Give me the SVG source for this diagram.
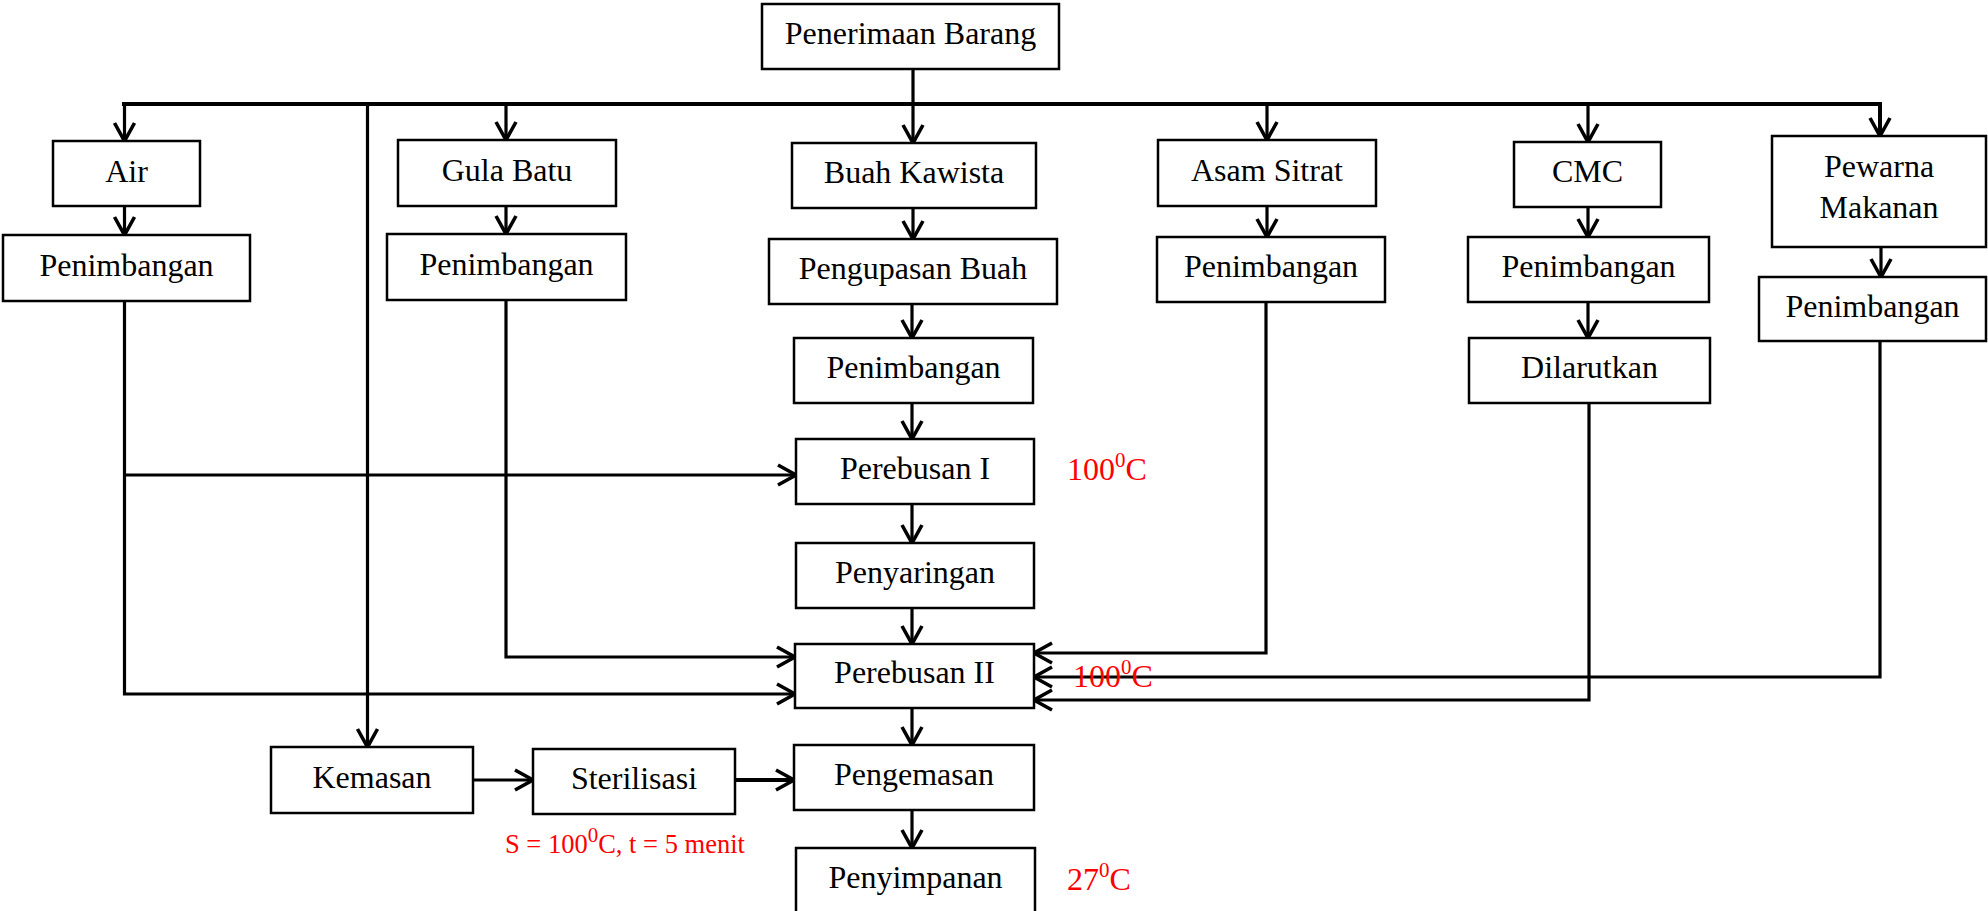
<svg xmlns="http://www.w3.org/2000/svg" width="1988" height="911" viewBox="0 0 1988 911">
  <style>
    .box { fill: #ffffff; stroke: #000000; stroke-width: 2.5; }
    .lbl { font-family: "Liberation Serif", "Times New Roman", serif; font-size: 32px; fill: #000000; text-anchor: middle; }
    .note { font-family: "Liberation Serif", "Times New Roman", serif; font-size: 32px; fill: #ff0000; }
    .small { font-size: 26.5px; }
    .sup { font-size: 21px; }
    .wire { fill: none; stroke: #000000; stroke-width: 3.2; }
    .bus { stroke-width: 4; }
    .arr { marker-end: url(#head); }
  </style>
  <defs>
    <marker id="head" markerUnits="userSpaceOnUse" markerWidth="24" markerHeight="26" refX="18" refY="10" orient="auto" overflow="visible">
      <path d="M0,0 L18,10 L0,20" fill="none" stroke="#000000" stroke-width="3.6"/>
    </marker>
  </defs>

  <!-- connectors -->
  <g id="connectors">
    <polyline class="wire bus arr" points="122,104 1880,104 1880,136"/>
    <line class="wire" x1="913" y1="69" x2="913" y2="104"/>
    <line class="wire arr" x1="124.5" y1="104" x2="124.5" y2="141"/>
    <line class="wire arr" x1="506" y1="104" x2="506" y2="140"/>
    <line class="wire arr" x1="913" y1="104" x2="913" y2="143"/>
    <line class="wire arr" x1="1267" y1="104" x2="1267" y2="140"/>
    <line class="wire arr" x1="1588" y1="104" x2="1588" y2="142"/>
    <line class="wire arr" x1="367.5" y1="104" x2="367.5" y2="747"/>

    <line class="wire arr" x1="124.5" y1="206" x2="124.5" y2="235"/>
    <line class="wire arr" x1="506" y1="206" x2="506" y2="234"/>
    <line class="wire arr" x1="913" y1="208" x2="913" y2="239"/>
    <line class="wire arr" x1="912" y1="304" x2="912" y2="338"/>
    <line class="wire arr" x1="912" y1="403" x2="912" y2="439"/>
    <line class="wire arr" x1="912" y1="504" x2="912" y2="543"/>
    <line class="wire arr" x1="912" y1="608" x2="912" y2="644"/>
    <line class="wire arr" x1="912" y1="708" x2="912" y2="745"/>
    <line class="wire arr" x1="912" y1="810" x2="912" y2="848"/>
    <line class="wire arr" x1="1267" y1="206" x2="1267" y2="237"/>
    <line class="wire arr" x1="1588" y1="207" x2="1588" y2="237"/>
    <line class="wire arr" x1="1588" y1="302" x2="1588" y2="338"/>
    <line class="wire arr" x1="1881" y1="247" x2="1881" y2="277"/>

    <polyline class="wire arr" points="124.5,301 124.5,694 795,694"/>
    <line class="wire arr" x1="124.5" y1="475" x2="796" y2="475"/>
    <polyline class="wire arr" points="506,300 506,657 795,657"/>
    <polyline class="wire arr" points="1266,302 1266,653 1034,653"/>
    <polyline class="wire arr" points="1880,341 1880,677 1034,677"/>
    <polyline class="wire arr" points="1589,403 1589,700 1034,700"/>

    <line class="wire arr" x1="473" y1="780" x2="533" y2="780"/>
    <line class="wire bus arr" x1="735" y1="780" x2="794" y2="780"/>
  </g>

  <!-- nodes -->
  <g id="penerimaan"><rect class="box" x="762" y="4" width="297" height="65"/><text class="lbl" x="910.5" y="44">Penerimaan Barang</text></g>
  <g id="air"><rect class="box" x="53" y="141" width="147" height="65"/><text class="lbl" x="126.5" y="182">Air</text></g>
  <g id="timbang-air"><rect class="box" x="3" y="235" width="247" height="66"/><text class="lbl" x="126.5" y="276">Penimbangan</text></g>
  <g id="gula"><rect class="box" x="398" y="140" width="218" height="66"/><text class="lbl" x="507" y="181">Gula Batu</text></g>
  <g id="timbang-gula"><rect class="box" x="387" y="234" width="239" height="66"/><text class="lbl" x="506.5" y="275">Penimbangan</text></g>
  <g id="buah"><rect class="box" x="792" y="143" width="244" height="65"/><text class="lbl" x="914" y="183">Buah Kawista</text></g>
  <g id="kupas"><rect class="box" x="769" y="239" width="288" height="65"/><text class="lbl" x="913" y="279">Pengupasan Buah</text></g>
  <g id="timbang-buah"><rect class="box" x="794" y="338" width="239" height="65"/><text class="lbl" x="913.5" y="378">Penimbangan</text></g>
  <g id="rebus1"><rect class="box" x="796" y="439" width="238" height="65"/><text class="lbl" x="915" y="479">Perebusan I</text></g>
  <g id="saring"><rect class="box" x="796" y="543" width="238" height="65"/><text class="lbl" x="915" y="583">Penyaringan</text></g>
  <g id="rebus2"><rect class="box" x="795" y="644" width="239" height="64"/><text class="lbl" x="914.5" y="683">Perebusan II</text></g>
  <g id="pengemasan"><rect class="box" x="794" y="745" width="240" height="65"/><text class="lbl" x="914" y="785">Pengemasan</text></g>
  <g id="simpan"><rect class="box" x="796" y="848" width="239" height="70"/><text class="lbl" x="915.5" y="888">Penyimpanan</text></g>
  <g id="kemasan"><rect class="box" x="271" y="747" width="202" height="66"/><text class="lbl" x="372" y="788">Kemasan</text></g>
  <g id="steril"><rect class="box" x="533" y="749" width="202" height="65"/><text class="lbl" x="634" y="789">Sterilisasi</text></g>
  <g id="asam"><rect class="box" x="1158" y="140" width="218" height="66"/><text class="lbl" x="1267" y="181">Asam Sitrat</text></g>
  <g id="timbang-asam"><rect class="box" x="1157" y="237" width="228" height="65"/><text class="lbl" x="1271" y="277">Penimbangan</text></g>
  <g id="cmc"><rect class="box" x="1514" y="142" width="147" height="65"/><text class="lbl" x="1587.5" y="182">CMC</text></g>
  <g id="timbang-cmc"><rect class="box" x="1468" y="237" width="241" height="65"/><text class="lbl" x="1588.5" y="277">Penimbangan</text></g>
  <g id="larut"><rect class="box" x="1469" y="338" width="241" height="65"/><text class="lbl" x="1589.5" y="378">Dilarutkan</text></g>
  <g id="pewarna"><rect class="box" x="1772" y="136" width="214" height="111"/><text class="lbl" x="1879" y="177">Pewarna</text><text class="lbl" x="1879" y="218">Makanan</text></g>
  <g id="timbang-pewarna"><rect class="box" x="1759" y="277" width="227" height="64"/><text class="lbl" x="1872.5" y="317">Penimbangan</text></g>

  <!-- process conditions -->
  <g id="notes">
    <text class="note" x="1067" y="480">100<tspan class="sup" dy="-13">0</tspan><tspan dy="13">C</tspan></text>
    <text class="note" x="1073" y="687">100<tspan class="sup" dy="-13">0</tspan><tspan dy="13">C</tspan></text>
    <text class="note" x="1067" y="890">27<tspan class="sup" dy="-13">0</tspan><tspan dy="13">C</tspan></text>
    <text class="note small" x="505" y="853">S = 100<tspan class="sup" font-size="17.5" dy="-11">0</tspan><tspan dy="11">C, t = 5 menit</tspan></text>
  </g>
</svg>
